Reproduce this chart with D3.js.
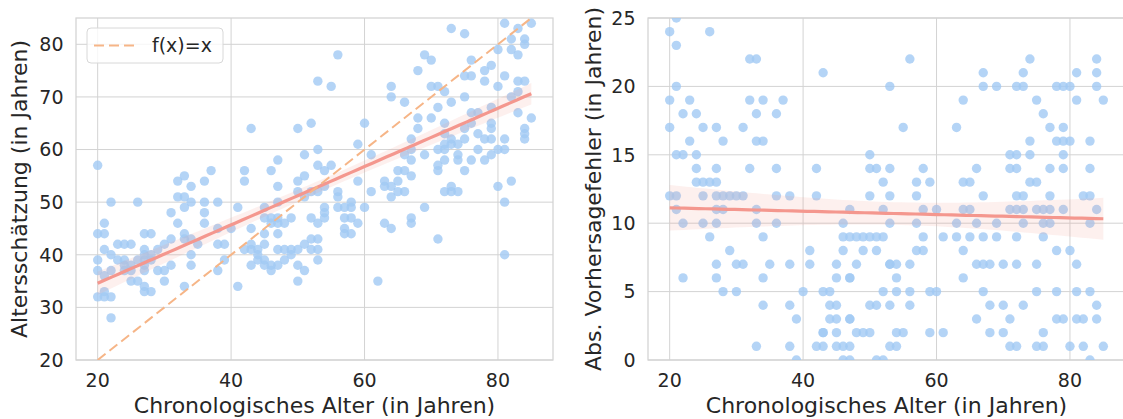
<!DOCTYPE html>
<html>
<head>
<meta charset="utf-8">
<script src="https://cdn.jsdelivr.net/npm/d3@7/dist/d3.min.js"></script>
<style>
  body { margin: 0; background: #fff; }
  text { font-family: "DejaVu Sans", sans-serif; fill: #262626; }
</style>
</head>
<body>
<svg id="chart" width="1123" height="419"></svg>
<script>
// [chronologisches Alter, Altersschätzung]
var schaetzungen = [
  [20,57],[22,50],[26,50],[32,54],[33,55],[32,51],[33,51],[34,53],[34,50],
  [20,44],[21,46],[21,44],[20,39],[20,37],[20,32],[21,33],[21,32],[22,32],[22,28],[21,41],[22,40],[22,37],[21,36],
  [23,42],[24,42],[25,42],[23,39],[24,38],[24,37],[24,39],[25,35],[26,35],[27,44],[28,44],[27,41],[27,38],[27,37],
  [27,34],[27,39],[27,40],[28,33],[28,39],[27,33],[29,41],[30,42],[29,37],[30,37],[30,35],[31,38],[31,43],[31,48],
  [32,46],[33,44],[33,34],[33,49],[34,40],[34,38],[34,43],[35,42],[33,43],[25,37],[25,38],[26,39],[28,40],
  [36,54],[37,56],[36,50],[38,50],[36,48],[36,46],[38,45],[40,45],[38,42],[39,42],[39,39],[38,37],[41,34],[41,49],
  [42,56],[42,54],[43,64],[46,56],[47,53],[45,49],[47,50],[43,45],[45,44],[45,42],[42,41],[43,41],[44,41],[43,42],
  [44,40],[44,39],[45,39],[43,38],[45,38],
  [45,47],[46,47],[47,47],[48,46],[49,47],[47,46],[47,44],[46,46],[47,58],
  [50,54],[51,55],[50,52],[52,52],[53,52],[54,56],[54,53],[56,52],[56,51],[56,49],[57,49],[58,49],[59,54],[54,49],
  [54,48],[54,47],[52,47],[53,46],[57,47],[58,47],[59,46],[57,45],[57,44],[58,44],[51,51],
  [47,41],[48,41],[49,41],[50,41],[51,42],[52,43],[53,43],[52,41],[53,41],[46,38],[47,38],[48,39],[49,40],[50,38],
  [51,37],[50,35],[46,37],[53,39],
  [56,78],[53,73],[55,72],[50,64],[52,65],[60,65],[59,61],[51,59],[53,60],[53,57],[55,57],[58,50],[60,49],
  [61,59],[64,72],[64,70],[66,69],[68,75],[69,78],[70,77],[73,83],[75,82],[70,72],[71,72],[72,71],[68,66],[70,66],
  [71,68],[73,69],[75,70],[75,74],[76,74],[76,77],[78,75],[79,76],[78,73],[80,72],[81,74],[80,79],[81,84],[83,83],
  [85,84],[82,81],[84,81],[84,80],[82,79],[83,78],[83,73],[84,73],[83,71],[82,70],[83,67],[85,66],[84,64],[84,63],
  [84,62],[76,67],[77,67],[79,68],[79,65],[79,64],[78,62],[79,62],[81,62],[77,63],[75,64],[76,65],[72,65],[68,64],
  [67,62],[72,63],[73,62],[71,60],[72,61],[73,61],[74,61],[75,62],[66,59],[67,60],[69,59],[67,58],[71,57],[72,58],
  [74,59],[74,58],[76,58],[77,60],[78,58],[79,59],[80,60],[81,60],[71,56],[75,56],[63,54],[64,53],[65,56],[66,56],
  [67,55],[65,54],[66,52],[64,51],[65,52],[61,52],[72,52],[73,53],[73,52],[74,52],[80,53],[82,54],[81,50],[69,49],
  [62,35],[63,46],[64,45],[67,47],[67,46],[71,43],[81,40],[63,53],[72,60],
  // oberhalb des sichtbaren Bereichs (> 85)
  [72,87],[76,86],[77,88],[77,89],[78,86],[79,95],[80,96],[81,86],[83,97]
];

// [chronologisches Alter, absoluter Vorhersagefehler]
var fehler = [
  [20,24],[21,25],[21,23],[21,20],[20,19],[20,17],[21,15],[22,15],[23,19],[22,18],[24,18],[25,17],[23,16],[24,15],
  [24,14],[24,13],[25,13],[26,13],[27,13],[27,14],[27,17],[28,16],[26,24],[32,22],[33,22],[32,19],[34,19],[37,19],
  [33,18],[36,18],[31,17],[33,16],[34,16],[32,14],[36,14],[43,21],[42,14],
  [20,12],[21,12],[25,12],[27,12],[28,12],[29,12],[30,12],[31,12],[36,12],[38,12],[42,12],
  [21,11],[27,11],[28,11],[33,11],[22,10],[25,10],[27,10],[33,10],[36,10],
  [26,9],[34,9],[29,8],[41,8],[27,7],[30,7],[31,7],[35,7],[38,7],[41,7],
  [22,6],[27,6],[34,6],[28,5],[30,5],[40,5],[34,4],[38,4],[39,3],[33,1],[38,1],[39,0],
  [50,14],[51,14],[53,14],[58,14],[52,13],[57,13],[59,13],[50,12],[53,12],[57,12],[47,11],[52,11],[58,11],[60,11],
  [46,10],[53,10],[57,10],[46,9],[47,9],[48,9],[49,9],[50,9],[51,9],[52,9],[58,9],
  [46,8],[49,8],[51,8],[57,8],[58,8],[45,7],[48,7],[53,7],[53,7],[54,7],[56,7],[45,6],[47,6],[47,6],[54,6],
  [43,5],[44,5],[52,5],[54,5],[56,5],[59,5],[60,5],[44,4],[45,4],[50,4],[51,4],[53,4],[56,4],
  [44,3],[45,3],[47,3],[47,3],[43,2],[43,2],[45,2],[48,2],[49,2],[50,2],[54,2],[55,2],[59,2],
  [42,1],[43,1],[45,1],[46,1],[47,1],[53,1],[54,1],[46,0],[47,0],[51,0],[52,0],
  [56,22],[53,20],[55,17],[50,15],
  [63,17],[64,19],[67,21],[67,20],[69,20],[64,13],[65,13],[66,14],[67,12],[72,20],[73,20],[73,21],[74,22],[75,19],
  [76,18],[77,17],[79,17],[74,16],[78,16],[79,16],[80,16],[83,16],[71,15],[72,15],[74,15],[79,15],[71,14],[72,14],
  [77,14],[79,14],[83,14],[74,13],[75,13],[72,12],[73,12],[77,12],[82,12],[83,12],[78,20],[79,20],[80,20],[81,21],
  [81,19],[84,22],[84,21],[84,20],[85,19],
  [64,11],[65,11],[71,11],[72,11],[73,11],[75,11],[76,11],[77,11],[79,11],[84,11],
  [63,10],[66,10],[69,10],[73,10],[76,10],[77,10],[83,10],
  [61,9],[63,9],[65,9],[67,9],[69,9],[72,9],[76,9],
  [64,8],[78,8],[80,8],[66,7],[67,7],[68,7],[70,7],[72,7],[75,7],[81,7],
  [64,6],[67,5],[75,5],[78,5],[81,5],[83,5],[68,4],[70,4],[73,4],[84,4],
  [66,3],[71,3],[78,3],[79,3],[81,3],[82,3],[84,3],[61,2],[68,2],[70,2],[76,2],
  [71,1],[72,1],[75,1],[76,1],[80,1],[82,1],[85,1],[83,0],
  // ausserhalb des sichtbaren Bereichs (> 25)
  [20,37],[22,28],[62,27],[71,28],[80,27],[81,31],[81,41],[82,28]
];

var xTicks = [20, 40, 60, 80];
var yTicksLinks = [20, 30, 40, 50, 60, 70, 80];
var yTicksRechts = [0, 5, 10, 15, 20, 25];
var xLabel = "Chronologisches Alter (in Jahren)";
var yLabelLinks = "Altersschätzung (in Jahren)";
var yLabelRechts = "Abs. Vorhersagefehler (in Jahren)";
var legendLabel = "f(x)=x";

var punktFarbe = "#a1c9f4",
    linienFarbe = "#f4978e",
    diagFarbe = "#f6b587",
    gridFarbe = "#d3d3d3";

var svg = d3.select("#chart");
var top_ = 18, bottom_ = 360, panelW = 477;

// lineare Regression mit 95%-Konfidenzband
function regression(data) {
  var n = data.length;
  var mx = d3.mean(data, d => d[0]), my = d3.mean(data, d => d[1]);
  var sxx = d3.sum(data, d => (d[0] - mx) * (d[0] - mx));
  var sxy = d3.sum(data, d => (d[0] - mx) * (d[1] - my));
  var b = sxy / sxx, a = my - b * mx;
  var s2 = d3.sum(data, d => Math.pow(d[1] - (a + b * d[0]), 2)) / (n - 2);
  var ext = d3.extent(data, d => d[0]);
  return d3.range(0, 61).map(function(i) {
    var x = ext[0] + (ext[1] - ext[0]) * i / 60;
    var se = Math.sqrt(s2 * (1 / n + (x - mx) * (x - mx) / sxx));
    return { x: x, y: a + b * x, lo: a + b * x - 1.97 * se, hi: a + b * x + 1.97 * se };
  });
}

function panel(left, data, yDomain, yTicks, yLabel, labelX, withDiag, id) {
  var x = d3.scaleLinear().domain([16.75, 88.25]).range([left, left + panelW]);
  var y = d3.scaleLinear().domain(yDomain).range([bottom_, top_]);
  var g = svg.append("g");

  svg.append("clipPath").attr("id", id)
    .append("rect").attr("x", left).attr("y", top_).attr("width", panelW).attr("height", bottom_ - top_);

  // Gitter
  g.selectAll(".gx").data(xTicks).enter().append("line")
    .attr("x1", d => x(d)).attr("x2", d => x(d)).attr("y1", top_).attr("y2", bottom_)
    .style("stroke", gridFarbe).style("stroke-width", 1);
  g.selectAll(".gy").data(yTicks).enter().append("line")
    .attr("x1", left).attr("x2", left + panelW).attr("y1", d => y(d)).attr("y2", d => y(d))
    .style("stroke", gridFarbe).style("stroke-width", 1);

  // Rahmen
  g.append("rect")
    .attr("x", left).attr("y", top_).attr("width", panelW).attr("height", bottom_ - top_)
    .style("fill", "none").style("stroke", gridFarbe).style("stroke-width", 1.25);

  var plot = g.append("g").attr("clip-path", "url(#" + id + ")");

  plot.selectAll("circle").data(data).enter().append("circle")
    .attr("cx", d => x(d[0])).attr("cy", d => y(d[1])).attr("r", 4.7)
    .style("fill", punktFarbe).style("opacity", 0.8);

  var reg = regression(data);
  plot.append("path").datum(reg)
    .attr("d", d3.area().x(d => x(d.x)).y0(d => y(d.lo)).y1(d => y(d.hi)))
    .style("fill", linienFarbe).style("opacity", 0.15);
  plot.append("path").datum(reg)
    .attr("d", d3.line().x(d => x(d.x)).y(d => y(d.y)))
    .style("fill", "none").style("stroke", linienFarbe).style("stroke-width", 3.2);

  if (withDiag) {
    var ext = d3.extent(data, d => d[0]);
    plot.append("path").datum([ext[0], ext[1]])
      .attr("d", d3.line().x(d => x(d)).y(d => y(d)))
      .style("fill", "none").style("stroke", diagFarbe).style("stroke-width", 2)
      .style("stroke-dasharray", "10,5");
  }

  // Achsenbeschriftung
  g.selectAll(".tx").data(xTicks).enter().append("text")
    .attr("x", d => x(d)).attr("y", 387).attr("text-anchor", "middle")
    .style("font-size", "19px").text(d => d);
  g.selectAll(".ty").data(yTicks).enter().append("text")
    .attr("x", left - 12.5).attr("y", d => y(d)).attr("dy", "0.36em").attr("text-anchor", "end")
    .style("font-size", "19px").text(d => d);

  g.append("text")
    .attr("x", left + panelW / 2).attr("y", 413).attr("text-anchor", "middle")
    .style("font-size", "22px").text(xLabel);
  g.append("text")
    .attr("transform", "translate(" + labelX + "," + ((top_ + bottom_) / 2) + ")rotate(-90)")
    .attr("text-anchor", "middle")
    .style("font-size", "22px").text(yLabel);

  return g;
}

var links = panel(76, schaetzungen, [20, 85], yTicksLinks, yLabelLinks, 27, true, "clipL");
panel(648, fehler, [0, 25], yTicksRechts, yLabelRechts, 601, false, "clipR");

// Legende
var lg = links.append("g");
lg.append("rect")
  .attr("x", 87).attr("y", 28).attr("width", 136).attr("height", 35).attr("rx", 4)
  .style("fill", "white").style("fill-opacity", 0.8)
  .style("stroke", "#d8d8d8").style("stroke-width", 1);
lg.append("line")
  .attr("x1", 94).attr("x2", 135).attr("y1", 45.5).attr("y2", 45.5)
  .style("stroke", diagFarbe).style("stroke-width", 2).style("stroke-dasharray", "10,5");
lg.append("text")
  .attr("x", 152).attr("y", 52).style("font-size", "19px").text(legendLabel);
</script>
</body>
</html>
